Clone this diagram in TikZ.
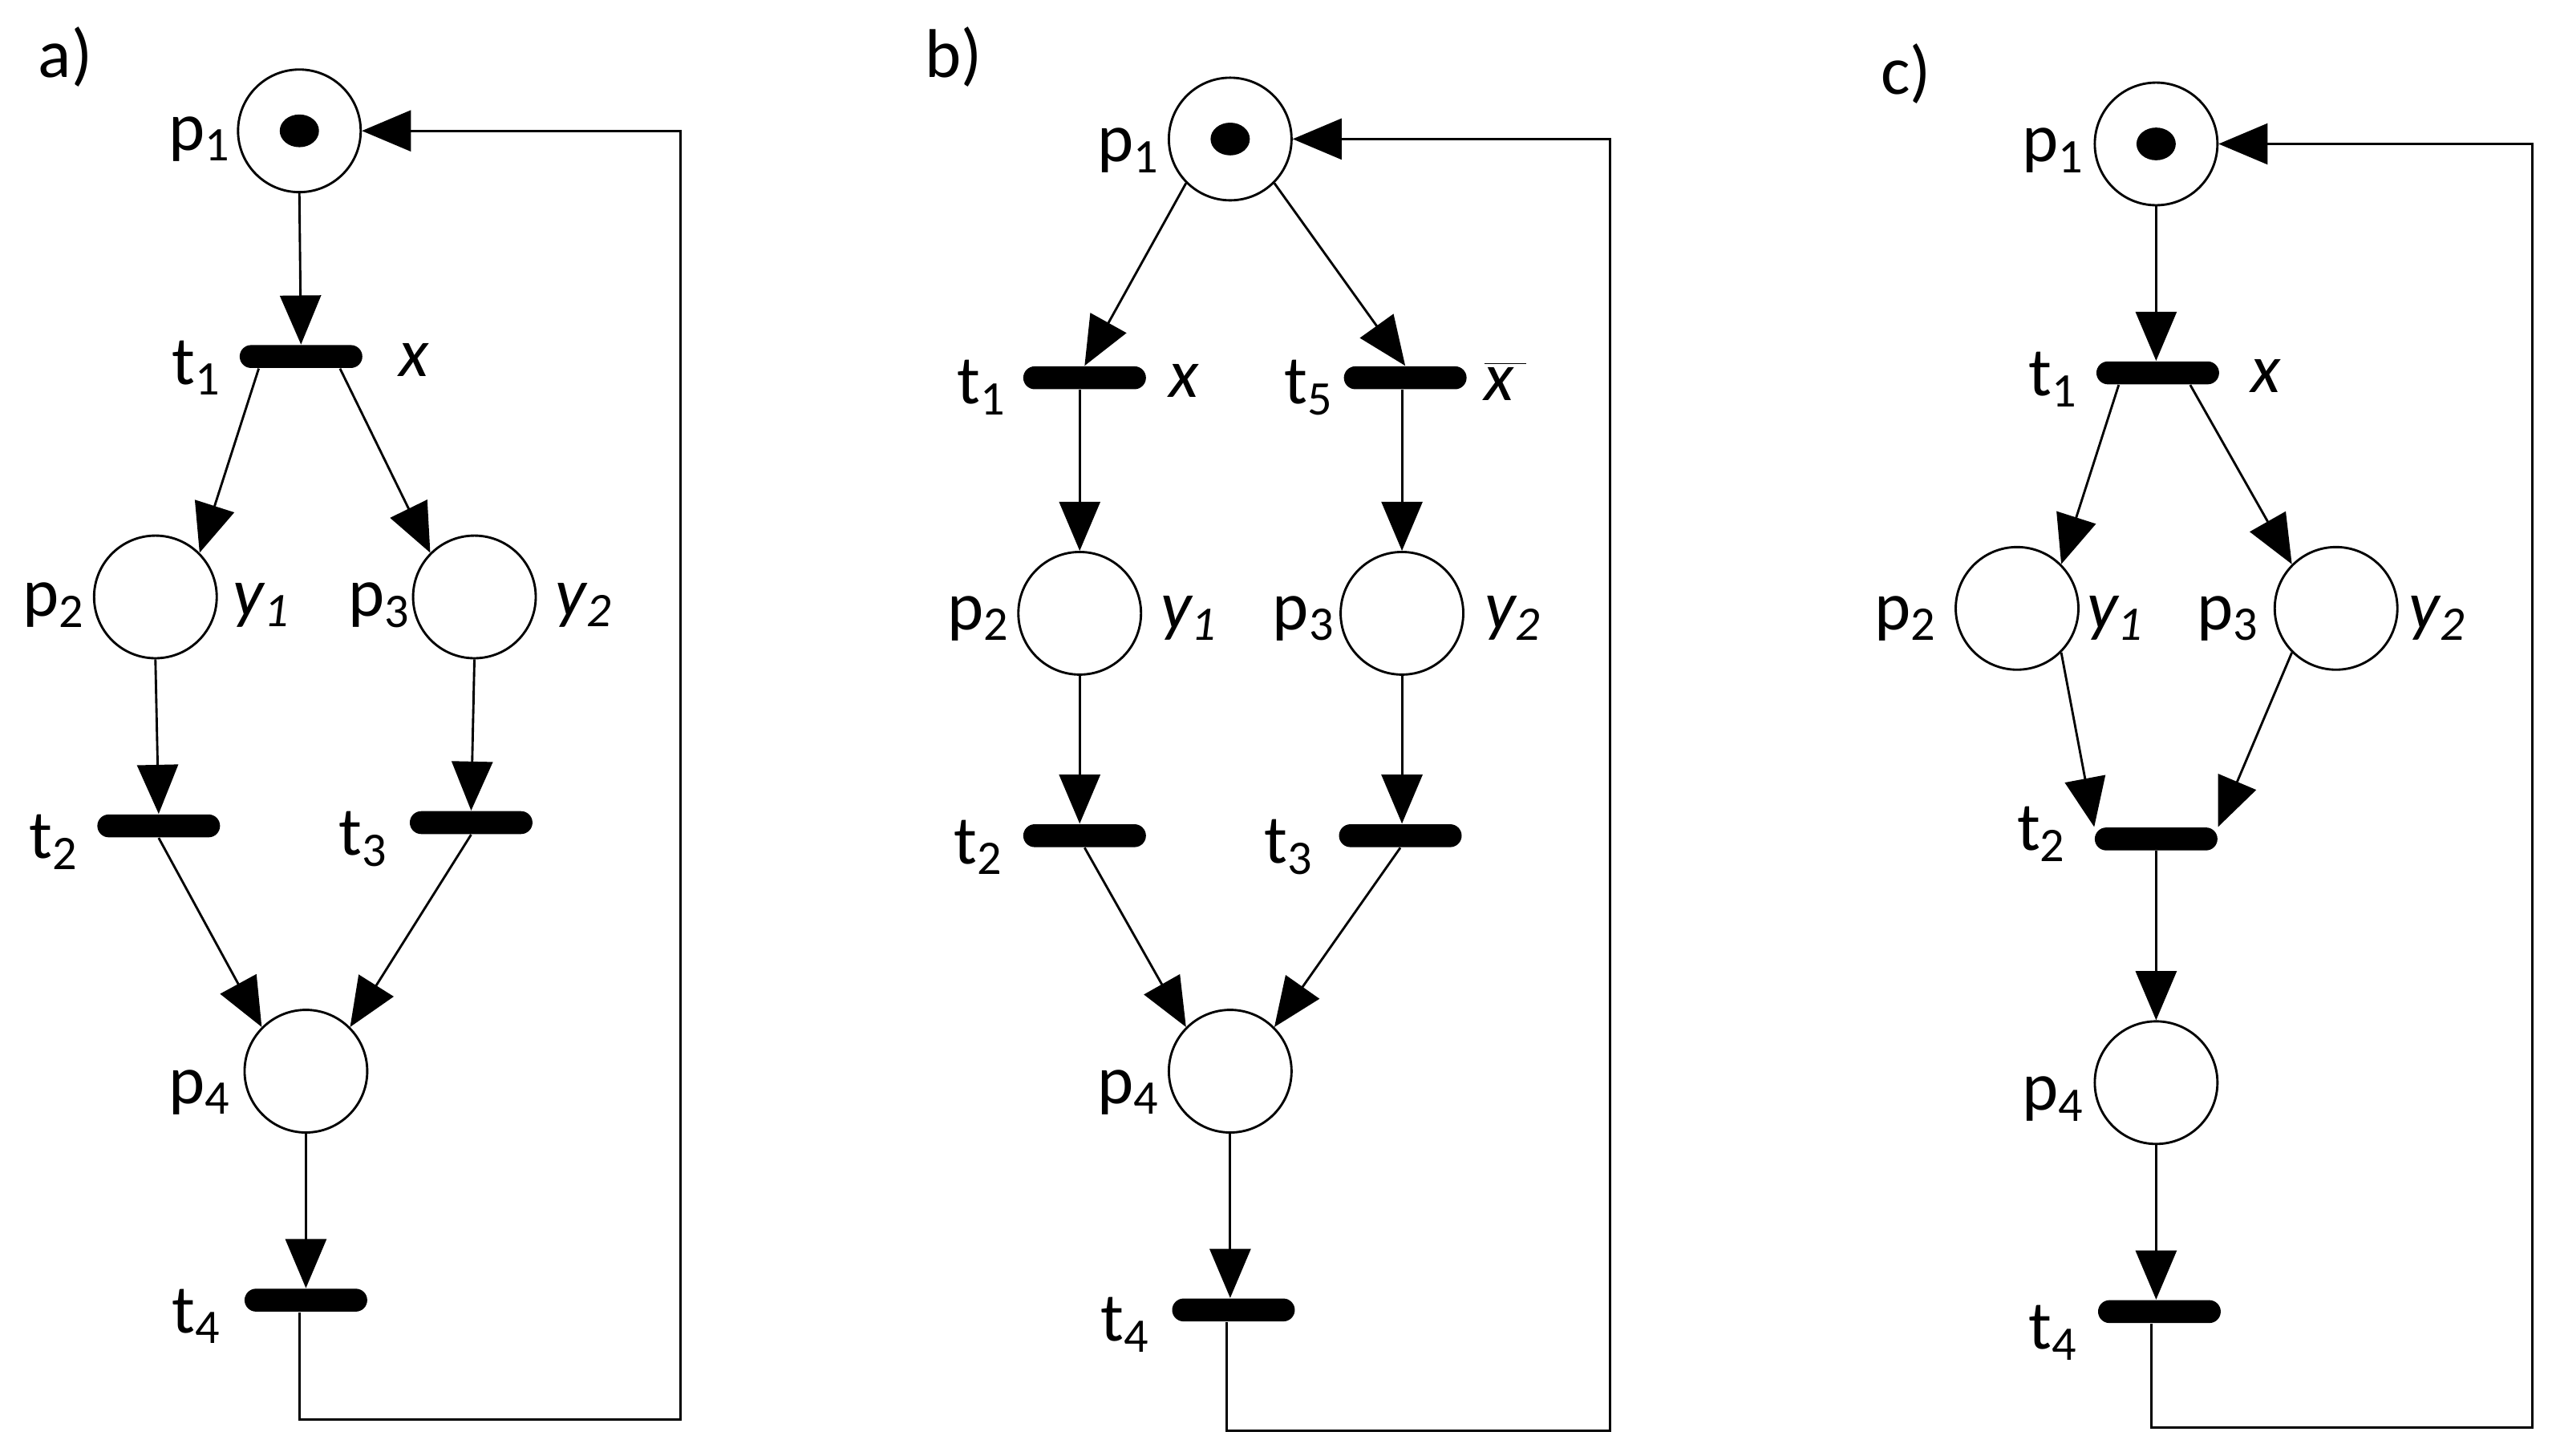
\documentclass[tikz,border=0pt]{standalone}
\usepackage{fontspec}
\setmainfont{Carlito}
\usetikzlibrary{arrows.meta,shapes.geometric}
\begin{document}
\begin{tikzpicture}[x=0.02cm,y=-0.02cm,
    every node/.style={font=\fontsize{24}{28}\selectfont},
    place/.style={circle,draw,line width=0.8pt,minimum size=1.5cm,inner sep=0pt},
    trans/.style={fill=black,rounded corners=1.4mm,minimum width=1.5cm,minimum height=0.28cm,inner sep=0pt},
    tok/.style={ellipse,fill=black,minimum width=0.48cm,minimum height=0.4cm,inner sep=0pt},
    arc/.style={line width=0.8pt,-{Triangle[length=6mm,width=5mm]}},
    line/.style={line width=0.8pt}]
\useasboundingbox (0,0) rectangle (1560,890);

% ---- a)
\node (la) at (40,35) {a)};
\node[place] (p1a) at (183,80) {};
\node[tok] (k1a) at (183,80) {};
\node[trans] (t1a) at (184,218) {};
\node[place] (p2a) at (95,365) {};
\node[place] (p3a) at (290,365) {};
\node[trans] (t2a) at (97,505) {};
\node[trans] (t3a) at (288,503) {};
\node[place] (p4a) at (187,655) {};
\node[trans] (t4a) at (187,795) {};
\node (lp1a) at (122,85) {p\textsubscript{1}};
\node (lt1a) at (120,225) {t\textsubscript{1}};
\node (lxa) at (253,220) {\textit{x}};
\node (lp2a) at (33,370) {p\textsubscript{2}};
\node (ly1a) at (160,370) {\textit{y\textsubscript{1}}};
\node (lp3a) at (232,370) {p\textsubscript{3}};
\node (ly2a) at (357,370) {\textit{y\textsubscript{2}}};
\node (lt2a) at (33,515) {t\textsubscript{2}};
\node (lt3a) at (222,513) {t\textsubscript{3}};
\node (lp4a) at (122,668) {p\textsubscript{4}};
\node (lt4a) at (120,805) {t\textsubscript{4}};
\draw[arc] (p1a.south) -- (t1a.north);
\draw[arc] (t1a.south west) ++(12,0) -- (p2a.north east);
\draw[arc] (t1a.south east) ++(-14,0) -- (p3a.north west);
\draw[arc] (p2a.south) -- (t2a.north);
\draw[arc] (p3a.south) -- (t3a.north);
\draw[arc] (t2a.south) -- (p4a.north west);
\draw[arc] (t3a.south) -- (p4a.north east);
\draw[arc] (p4a.south) -- (t4a.north);
\coordinate (fa1) at (416,868);
\coordinate (fa2) at (416,80);
\draw[arc] (t4a.south) ++(-4,0) |- (fa1) -- (fa2) -- (p1a.east);

% ---- b)
\node (lb) at (583,35) {b)};
\node[place] (p1b) at (752,85) {};
\node[tok] (k1b) at (752,85) {};
\node[trans] (t1b) at (663,231) {};
\node[trans] (t5b) at (859,231) {};
\node[place] (p2b) at (660,375) {};
\node[place] (p3b) at (857,375) {};
\node[trans] (t2b) at (663,511) {};
\node[trans] (t3b) at (856,511) {};
\node[place] (p4b) at (752,655) {};
\node[trans] (t4b) at (754,801) {};
\node (lp1b) at (690,92) {p\textsubscript{1}};
\node (lt1b) at (600,237) {t\textsubscript{1}};
\node (lxb) at (724,233) {\textit{x}};
\node (lt5b) at (800,237) {t\textsubscript{5}};
\node (lx5b) at (920,233) {$\overline{\textit{x}\,}$};
\node (lp2b) at (598,378) {p\textsubscript{2}};
\node (ly1b) at (727,378) {\textit{y\textsubscript{1}}};
\node (lp3b) at (797,378) {p\textsubscript{3}};
\node (ly2b) at (925,378) {\textit{y\textsubscript{2}}};
\node (lt2b) at (598,518) {t\textsubscript{2}};
\node (lt3b) at (788,518) {t\textsubscript{3}};
\node (lp4b) at (690,668) {p\textsubscript{4}};
\node (lt4b) at (688,810) {t\textsubscript{4}};
\draw[arc] (p1b.south west) -- (t1b.north);
\draw[arc] (p1b.south east) -- (t5b.north);
\draw[arc] (t1b.south) ++(-3,0) -- (p2b.north);
\draw[arc] (t5b.south) ++(-2,0) -- (p3b.north);
\draw[arc] (p2b.south) -- (t2b.north -| p2b.south);
\draw[arc] (p3b.south) -- (t3b.north -| p3b.south);
\draw[arc] (t2b.south) -- (p4b.north west);
\draw[arc] (t3b.south) -- (p4b.north east);
\draw[arc] (p4b.south) -- (t4b.north -| p4b.south);
\coordinate (fb1) at (984,875);
\coordinate (fb2) at (984,85);
\draw[arc] (t4b.south) ++(-4,0) |- (fb1) -- (fb2) -- (p1b.east);

% ---- c)
\node (lc) at (1165,45) {c)};
\node[place] (p1c) at (1318,88) {};
\node[tok] (k1c) at (1318,88) {};
\node[trans] (t1c) at (1319,228) {};
\node[place] (p2c) at (1233,372) {};
\node[place] (p3c) at (1428,372) {};
\node[trans] (t2c) at (1318,513) {};
\node[place] (p4c) at (1318,662) {};
\node[trans] (t4c) at (1320,802) {};
\node (lp1c) at (1255,92) {p\textsubscript{1}};
\node (lt1c) at (1255,232) {t\textsubscript{1}};
\node (lxc) at (1385,230) {\textit{x}};
\node (lp2c) at (1165,378) {p\textsubscript{2}};
\node (ly1c) at (1293,378) {\textit{y\textsubscript{1}}};
\node (lp3c) at (1362,378) {p\textsubscript{3}};
\node (ly2c) at (1490,378) {\textit{y\textsubscript{2}}};
\node (lt2c) at (1248,510) {t\textsubscript{2}};
\node (lp4c) at (1255,672) {p\textsubscript{4}};
\node (lt4c) at (1255,815) {t\textsubscript{4}};
\draw[arc] (p1c.south) -- (t1c.north -| p1c.south);
\draw[arc] (t1c.south west) ++(14,0) -- (p2c.north east);
\draw[arc] (t1c.south east) ++(-18,0) -- (p3c.north west);
\draw[arc] (p2c.south east) -- (t2c.north west);
\draw[arc] (p3c.south west) -- (t2c.north east);
\draw[arc] (t2c.south) -- (p4c.north);
\draw[arc] (p4c.south) -- (t4c.north -| p4c.south);
\coordinate (fc1) at (1548,873);
\coordinate (fc2) at (1548,88);
\draw[arc] (t4c.south) ++(-5,0) |- (fc1) -- (fc2) -- (p1c.east);
\end{tikzpicture}
\end{document}
